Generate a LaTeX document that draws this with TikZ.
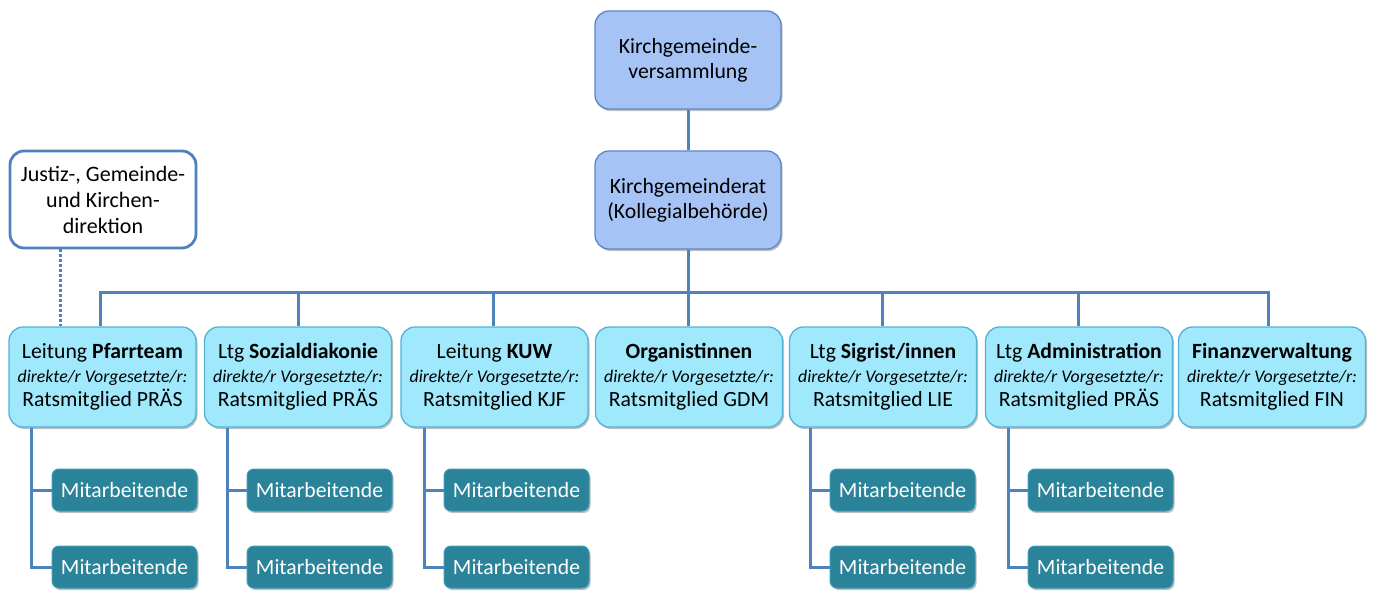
\documentclass[tikz,border=0pt]{standalone}
\usepackage{fontspec}
\setmainfont{Carlito}
\usetikzlibrary{shadows}
\definecolor{lineblue}{HTML}{4F81BD}
\definecolor{topfill}{HTML}{A6C3F5}
\definecolor{topdraw}{HTML}{5A86C6}
\definecolor{rowfill}{HTML}{A0E8FC}
\definecolor{rowdraw}{HTML}{52B2D6}
\definecolor{subfill}{HTML}{2A8399}
\definecolor{subdraw}{HTML}{3B9BB5}
\tikzset{
  shad/.style={drop shadow={shadow xshift=1.5pt, shadow yshift=-2pt, opacity=0.25, fill=black}},
  topbox/.style={shad, draw=topdraw, fill=topfill, line width=1.3pt, rounded corners=14pt,
    minimum width=186pt, minimum height=98pt, align=center, inner sep=2pt,
    font=\fontsize{21.7}{25}\selectfont},
  extbox/.style={draw=lineblue, fill=white, line width=2.8pt, rounded corners=14pt,
    minimum width=186pt, minimum height=97pt, align=center, inner sep=2pt,
    font=\fontsize{22}{26}\selectfont},
  rowbox/.style={shad, draw=rowdraw, fill=rowfill, line width=1.3pt, rounded corners=14pt,
    minimum width=187pt, minimum height=100pt, align=center, inner sep=2pt,
    font=\fontsize{21.7}{24}\selectfont},
  subbox/.style={shad, draw=subdraw, fill=subfill, line width=1pt, rounded corners=7pt,
    minimum width=145pt, minimum height=42pt, text=white, inner sep=2pt,
    font=\fontsize{21.7}{24}\selectfont},
  conn/.style={draw=lineblue, line width=3pt},
  dotconn/.style={draw=lineblue, line width=3pt, dash pattern=on 2.5pt off 2.5pt},
}
\newcommand{\vg}{{\fontsize{17.8}{24}\selectfont\itshape direkte/r Vorgesetzte/r:}}
\begin{document}
\begin{tikzpicture}[x=1pt,y=-1pt]
\useasboundingbox (0,0) rectangle (1374,590);
\coordinate (bus) at (688,292);
% top
\node[topbox] (kgv) at (688,60) {Kirchgemeinde-\\versammlung};
\node[topbox] (kgr) at (688,200) {Kirchgemeinderat\\(Kollegialbehörde)};
\node[extbox] (jgk) at (103,199.5) {Justiz-, Gemeinde-\\und Kirchen-\\direktion};
% row
\node[rowbox] (r1) at (102.5,377) {Leitung \textbf{Pfarrteam}\\\vg\\Ratsmitglied PRÄS};
\node[rowbox] (r2) at (298,377) {Ltg \textbf{Sozialdiakonie}\\\vg\\Ratsmitglied PRÄS};
\node[rowbox] (r3) at (494.5,377) {Leitung \textbf{KUW}\\\vg\\Ratsmitglied KJF};
\node[rowbox] (r4) at (689,377) {\textbf{Organistinnen}\\\vg\\Ratsmitglied GDM};
\node[rowbox] (r5) at (883,377) {Ltg \textbf{Sigrist/innen}\\\vg\\Ratsmitglied LIE};
\node[rowbox] (r6) at (1079,377) {Ltg \textbf{Administration}\\\vg\\Ratsmitglied PRÄS};
\node[rowbox] (r7) at (1272,377) {\textbf{Finanzverwaltung}\\\vg\\Ratsmitglied FIN};
% sub boxes
\foreach \r/\x in {1/124.5, 2/319.5, 3/516.5, 5/902.5, 6/1100.5}{
  \node[subbox] (m\r a) at (\x,490) {Mitarbeitende};
  \node[subbox] (m\r b) at (\x,567) {Mitarbeitende};
}
% drop points on the bus
\foreach \r/\x in {1/100, 2/298, 3/493, 4/688, 5/882, 6/1078, 7/1268}{
  \coordinate (d\r) at (\x,292);
}
% stem points below row boxes
\foreach \r/\x in {1/31, 2/227, 3/424, 5/810, 6/1008}{
  \coordinate (s\r) at (\x,567);
}
\coordinate (dot) at (60,300);
% connectors
\draw[conn] (kgv.south) -- (kgr.north);
\draw[conn] (kgr.south) -- (bus);
\draw[conn, line join=miter] (d1 |- r1.north) -- (d1) -- (d7) -- (d7 |- r7.north);
\foreach \r in {2,3,4,5,6}{
  \draw[conn] (d\r) -- (d\r |- r\r.north);
}
\draw[dotconn] (dot |- jgk.south) -- (dot |- r1.north);
\foreach \r in {1,2,3,5,6}{
  \draw[conn, line join=miter] (s\r |- r\r.south) -- (s\r) -- (m\r b.west);
  \draw[conn] (s\r |- m\r a.west) -- (m\r a.west);
}
\end{tikzpicture}
\end{document}
